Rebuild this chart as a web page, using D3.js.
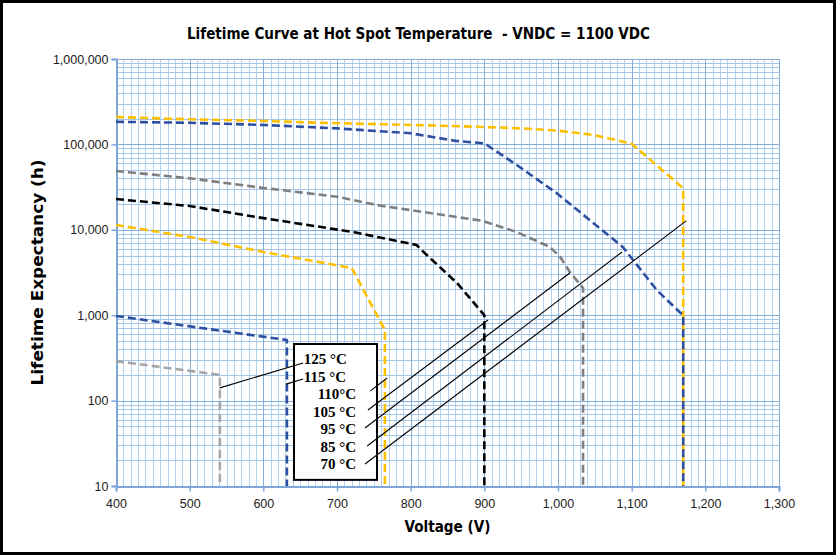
<!DOCTYPE html>
<html>
<head>
<meta charset="utf-8">
<script src="https://cdn.jsdelivr.net/npm/d3@7"></script>
<style>
  html, body { margin: 0; padding: 0; background: #fff; }
  svg { display: block; }
</style>
</head>
<body>
<svg id="chart" width="836" height="555"></svg>
<script>
// ---------------- DATA ----------------
const titleText = "Lifetime Curve at Hot Spot Temperature  - VNDC = 1100 VDC";
const xTitle = "Voltage (V)";
const yTitle = "Lifetime Expectancy (h)";

const xTicks = [400, 500, 600, 700, 800, 900, 1000, 1100, 1200, 1300];
const yTicks = [10, 100, 1000, 10000, 100000, 1000000];

// 70 °C
const volt70 = [400, 500, 600, 700, 800, 900, 950, 1000, 1050, 1100, 1170, 1170];
const hrs70  = [209000, 197000, 188000, 177000, 169000, 160000, 154000, 145000, 128000, 102000, 30600, 10];
// 85 °C
const volt85 = [400, 500, 600, 700, 800, 861, 900, 944, 998, 1043, 1088, 1134, 1165, 1170, 1170];
const hrs85  = [184000, 179000, 169000, 154000, 135000, 110000, 103000, 57400, 27000, 13000, 6290, 1970, 1090, 1000, 10];
// 95 °C
const volt95 = [400, 500, 600, 700, 754, 863, 898, 944, 989, 1003, 1016, 1028, 1034, 1034];
const hrs95  = [48800, 40100, 30900, 24400, 19500, 14100, 12700, 9420, 6290, 4800, 3210, 2400, 2080, 10];
// 105 °C
const volt105 = [400, 500, 600, 722, 808, 817, 863, 900, 900];
const hrs105  = [22900, 19000, 13700, 9420, 6640, 5550, 2380, 1000, 10];
// 110 °C
const volt110 = [400, 500, 600, 720, 765, 765];
const hrs110  = [11400, 8240, 5500, 3570, 670, 10];
// 115 °C
const volt115 = [400, 632, 632];
const hrs115  = [980, 512, 10];
// 125 °C
const volt125 = [400, 541, 541];
const hrs125  = [290, 200, 10];

const seriesNames  = ["70 °C", "85 °C", "95 °C", "105 °C", "110°C", "115 °C", "125 °C"];
const seriesColors = ["#FFC000", "#2E4FA0", "#7F7F7F", "#000000", "#FFC000", "#2E4FA0", "#A6A6A6"];
const seriesVolts  = [volt70, volt85, volt95, volt105, volt110, volt115, volt125];
const seriesHours  = [hrs70, hrs85, hrs95, hrs105, hrs110, hrs115, hrs125];

// Legend labels (top to bottom) and leader lines: [label end V, h] -> [curve V, h]
const legendLabels = ["125 °C", "115 °C", "110°C", "105 °C", "95 °C", "85 °C", "70 °C"];
const legendAnchor = ["start", "start", "end", "end", "end", "end", "end"];
const legendTextV  = [655, 655, 726, 726, 726, 726, 726];
const legendTextH  = [268, 165, 104.4, 64.3, 40.6, 25.0, 15.8];
const leaderFromV  = [654, 654, 745, 742, 738, 741, 738];
const leaderFromH  = [276, 179, 129, 77.6, 47.7, 29.4, 18.1];
const leaderToV    = [541, 631, 768, 905, 1016, 1087, 1174];
const leaderToH    = [141, 156, 184, 879, 3120, 5500, 12700];
const legendBoxV   = [641.6, 754.3];
const legendBoxH   = [460, 11.8];

// ---------------- CHART ----------------
const W = 836, H = 555;
const pLeft = 116, pRight = 779, pTop = 59, pBottom = 486;
const svg = d3.select("#chart");

const x = d3.scaleLinear().domain([400, 1300]).range([pLeft, pRight]);
const y = d3.scaleLog().domain([10, 1000000]).range([pBottom, pTop]);

svg.append("rect").attr("width", W).attr("height", H).attr("fill", "#fff");

const condensed = "'Liberation Sans Narrow', 'DejaVu Sans Condensed', 'Roboto', 'Liberation Sans', sans-serif";

// grid
const grid = svg.append("g").attr("shape-rendering", "crispEdges");
const minorX = d3.range(400, 1301, 10).filter(v => v % 100 !== 0);
const minorY = [];
[10, 100, 1000, 10000, 100000].forEach(d => { for (let k = 2; k <= 9; k++) minorY.push(d * k); });

grid.selectAll(".vmin").data(minorX).join("line")
  .attr("x1", d => Math.round(x(d)) + 0.5).attr("x2", d => Math.round(x(d)) + 0.5)
  .attr("y1", pTop).attr("y2", pBottom)
  .attr("stroke", "#B4D2EE").attr("stroke-width", 1);
grid.selectAll(".hmin").data(minorY).join("line")
  .attr("x1", pLeft).attr("x2", pRight)
  .attr("y1", d => Math.round(y(d)) + 0.5).attr("y2", d => Math.round(y(d)) + 0.5)
  .attr("stroke", "#A4C6E8").attr("stroke-width", 1);
grid.selectAll(".vmaj").data(xTicks).join("line")
  .attr("x1", d => Math.round(x(d)) + 0.5).attr("x2", d => Math.round(x(d)) + 0.5)
  .attr("y1", pTop).attr("y2", pBottom)
  .attr("stroke", "#85AEDD").attr("stroke-width", 1.5);
grid.selectAll(".hmaj").data(yTicks).join("line")
  .attr("x1", pLeft).attr("x2", pRight)
  .attr("y1", d => Math.round(y(d)) + 0.5).attr("y2", d => Math.round(y(d)) + 0.5)
  .attr("stroke", "#85AEDD").attr("stroke-width", 1.5);

// axes
const xAxis = svg.append("g").attr("transform", `translate(0,${pBottom + 0.5})`)
  .call(d3.axisBottom(x).tickValues(xTicks).tickFormat(d3.format(",")).tickSize(5).tickPadding(8));
const yAxis = svg.append("g").attr("transform", `translate(${pLeft + 0.5},0)`)
  .call(d3.axisLeft(y).tickValues(yTicks).tickFormat(d3.format(",")).tickSize(5).tickPadding(3));
[xAxis, yAxis].forEach(a => {
  a.select(".domain").attr("stroke", "#7EA6D9").attr("stroke-width", 2);
  a.selectAll(".tick line").attr("stroke", "#7EA6D9").attr("stroke-width", 1.5);
  a.selectAll("text").attr("fill", "#222").style("font-family", "'Liberation Sans', Arial, sans-serif").style("font-size", "12.5px");
});

// series
const line = d3.line().x(d => x(d[0])).y(d => y(d[1]));
seriesNames.forEach((name, i) => {
  const pts = seriesVolts[i].map((v, j) => [v, seriesHours[i][j]]);
  svg.append("path").datum(pts)
    .attr("d", line)
    .attr("fill", "none")
    .attr("stroke", seriesColors[i])
    .attr("stroke-width", 2.6)
    .attr("stroke-dasharray", "8,4")
    .attr("stroke-linejoin", "round");
});

// legend box
svg.append("rect")
  .attr("x", x(legendBoxV[0])).attr("y", y(legendBoxH[0]))
  .attr("width", x(legendBoxV[1]) - x(legendBoxV[0]))
  .attr("height", y(legendBoxH[1]) - y(legendBoxH[0]))
  .attr("fill", "#fff").attr("stroke", "#000").attr("stroke-width", 2);

// leader lines
legendLabels.forEach((lab, i) => {
  svg.append("line")
    .attr("x1", x(leaderFromV[i])).attr("y1", y(leaderFromH[i]))
    .attr("x2", x(leaderToV[i])).attr("y2", y(leaderToH[i]))
    .attr("stroke", "#000").attr("stroke-width", 1.1);
  svg.append("text")
    .attr("x", x(legendTextV[i])).attr("y", y(legendTextH[i]))
    .attr("text-anchor", legendAnchor[i])
    .style("font-family", "'Liberation Serif', 'Times New Roman', serif")
    .style("font-weight", "bold").style("font-size", "15px")
    .attr("fill", "#000")
    .text(lab);
});

// titles
svg.append("text").attr("x", 418.5).attr("y", 39).attr("text-anchor", "middle")
  .style("font-family", condensed).style("font-weight", "bold").style("font-size", "16px")
  .style("white-space", "pre")
  .attr("textLength", 463).attr("lengthAdjust", "spacingAndGlyphs")
  .attr("fill", "#000").text(titleText);
svg.append("text").attr("x", (pLeft + pRight) / 2).attr("y", 532).attr("text-anchor", "middle")
  .style("font-family", condensed).style("font-weight", "bold").style("font-size", "16px")
  .attr("textLength", 86).attr("lengthAdjust", "spacingAndGlyphs")
  .attr("fill", "#000").text(xTitle);
svg.append("text").attr("transform", `translate(43,${(pTop + pBottom) / 2}) rotate(-90)`)
  .attr("text-anchor", "middle")
  .style("font-family", condensed).style("font-weight", "bold").style("font-size", "16px")
  .attr("textLength", 226).attr("lengthAdjust", "spacingAndGlyphs")
  .attr("fill", "#000").text(yTitle);

// outer border
svg.append("rect").attr("x", 1.5).attr("y", 1.5).attr("width", W - 3).attr("height", H - 3)
  .attr("fill", "none").attr("stroke", "#000").attr("stroke-width", 3);
</script>
</body>
</html>
